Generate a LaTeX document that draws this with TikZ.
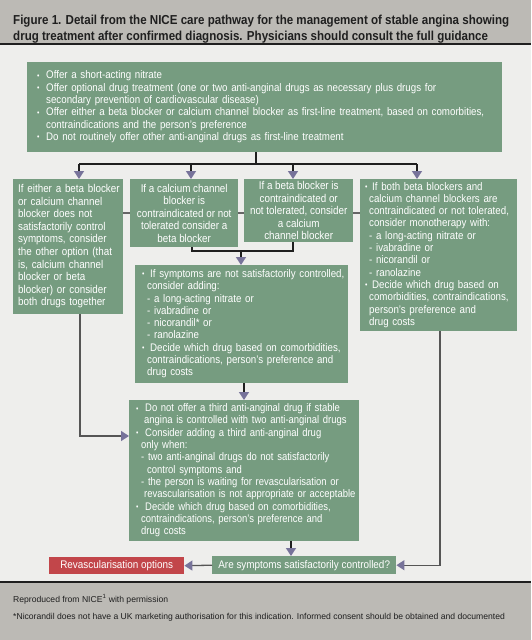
\documentclass[tikz,border=0pt]{standalone}
\usepackage{fontspec}
\usepackage{graphicx}
\setmainfont{Liberation Sans}[FakeStretch=0.885]
\newfontfamily\widefont{Liberation Sans}[FakeStretch=0.87]
\newfontfamily\gfont{Liberation Sans}[FakeStretch=0.9]
\newfontfamily\narrowfont{Liberation Sans}[FakeStretch=0.86]
\newfontfamily\titlefont{Liberation Sans}[FakeStretch=0.89]
\newfontfamily\plainfont{Liberation Sans}
\usetikzlibrary{arrows.meta}
\definecolor{bg}{HTML}{EEEEEC}
\definecolor{band}{HTML}{BCBAB5}
\definecolor{grn}{HTML}{769C80}
\definecolor{rd}{HTML}{C2464A}
\definecolor{tipc}{HTML}{77739A}
\definecolor{dk}{HTML}{1F1F1F}
\definecolor{gl}{HTML}{555555}
\newcommand\boxfont{\fontsize{11}{12.3}\selectfont}
\newcommand\bigboxfont{\widefont\fontsize{11.3}{12.6}\selectfont}
\newcommand\bl[1][9pt]{\makebox[#1][l]{\raisebox{0.6pt}{\scalebox{0.7}{•}}}}
\newcommand\boxlines[1]{\begin{tabular}{@{}l@{}}#1\end{tabular}}
\begin{document}
\begin{tikzpicture}[x=1pt,y=-1pt,
  box/.style={fill=grn, text=white, anchor=north west, inner ysep=0pt, inner xsep=5pt, font=\boxfont},
  ln/.style={draw=dk, line width=1.3pt},
  arr/.style={draw=dk, line width=1.3pt, -{Triangle[width=10pt,length=8pt,fill=tipc,color=tipc]}},
  garr/.style={draw=gl, line width=1.3pt, -{Triangle[width=10pt,length=8pt,fill=tipc,color=tipc]}},
  sl/.style={draw=gl!90, line width=1.3pt}]
\useasboundingbox (0,0) rectangle (531,640);
\fill[bg] (0,0) rectangle (531,640);
\fill[band] (0,0) rectangle (531,44);
\fill[band] (0,582) rectangle (531,640);
\draw[dk, line width=1.8pt] (0,44) -- (531,44);
\draw[dk, line width=1.8pt] (0,582) -- (531,582);

\node[anchor=north west, inner sep=0pt, align=left, text=dk, font=\titlefont\fontsize{13}{16}\selectfont\bfseries] (title) at (13,14.5)
 {Figure 1. Detail from the NICE care pathway for the management of stable angina showing\\drug treatment after confirmed diagnosis. Physicians should consult the full guidance};

% top box
\node[box, inner xsep=10pt, minimum width=475pt, minimum height=90pt, text width=455pt, align=left] (T) at (27,62)
 {\boxlines{\bl Offer a short-acting nitrate\\
 \bl Offer optional drug treatment (one or two anti-anginal drugs as necessary plus drugs for\\
 \hspace*{9pt}secondary prevention of cardiovascular disease)\\
 \bl Offer either a beta blocker or calcium channel blocker as first-line treatment, based on comorbities,\\
 \hspace*{9pt}contraindications and the person’s preference\\
 \bl Do not routinely offer other anti-anginal drugs as first-line treatment}};

% four boxes
\node[box, font=\bigboxfont, minimum width=110pt, minimum height=135pt, text width=100pt, align=left] (A) at (13,179)
 {\boxlines{If either a beta blocker\\or calcium channel\\blocker does not\\satisfactorily control\\symptoms, consider\\the other option (that\\is, calcium channel\\blocker or beta\\blocker) or consider\\both drugs together}};
\node[box, font=\bigboxfont, minimum width=108pt, minimum height=68pt, align=center] (B) at (130,179)
 {If a calcium channel\\blocker is\\contraindicated or not\\tolerated consider a\\beta blocker};
\node[box, font=\bigboxfont, minimum width=109pt, minimum height=63pt, align=center] (C) at (244,179)
 {If a beta blocker is\\contraindicated or\\not tolerated, consider\\a calcium\\channel blocker};
\node[box, minimum width=157pt, minimum height=152pt, text width=147pt, align=left] (D) at (360,179)
 {\boxlines{\bl[7pt]If both beta blockers and\\
 \hspace*{4pt}calcium channel blockers are\\
 \hspace*{4pt}contraindicated or not tolerated,\\
 \hspace*{4pt}consider monotherapy with:\\
 \hspace*{4pt}- a long-acting nitrate or\\
 \hspace*{4pt}- ivabradine or\\
 \hspace*{4pt}- nicorandil or\\
 \hspace*{4pt}- ranolazine\\
 \bl[7pt]Decide which drug based on\\
 \hspace*{4pt}comorbidities, contraindications,\\
 \hspace*{4pt}person’s preference and\\
 \hspace*{4pt}drug costs}};

% middle box
\node[box, inner xsep=7pt, minimum width=213pt, minimum height=118pt, text width=199pt, align=left] (E) at (135,265)
 {\boxlines{\bl[8pt]If symptoms are not satisfactorily controlled,\\
 \hspace*{5pt}consider adding:\\
 \hspace*{5pt}- a long-acting nitrate or\\
 \hspace*{5pt}- ivabradine or\\
 \hspace*{5pt}- nicorandil* or\\
 \hspace*{5pt}- ranolazine\\
 \bl[8pt]Decide which drug based on comorbidities,\\
 \hspace*{5pt}contraindications, person’s preference and\\
 \hspace*{5pt}drug costs}};

% lower box
\node[box, font=\narrowfont\fontsize{11}{12.3}\selectfont, inner xsep=7pt, minimum width=230pt, minimum height=141pt, text width=216pt, align=left] (F) at (129,400)
 {\boxlines{\bl Do not offer a third anti-anginal drug if stable\\
 \hspace*{8pt}angina is controlled with two anti-anginal drugs\\
 \bl Consider adding a third anti-anginal drug\\
 \hspace*{5pt}only when:\\
 \hspace*{5pt}- two anti-anginal drugs do not satisfactorily\\
 \hspace*{11pt}control symptoms and\\
 \hspace*{5pt}- the person is waiting for revascularisation or\\
 \hspace*{8pt}revascularisation is not appropriate or acceptable\\
 \bl Decide which drug based on comorbidities,\\
 \hspace*{5pt}contraindications, person’s preference and\\
 \hspace*{5pt}drug costs}};

\node[box, font=\gfont\fontsize{11}{12}\selectfont, minimum width=184pt, minimum height=18pt, align=center] (G) at (212,556) {Are symptoms satisfactorily controlled?};
\node[box, font=\gfont\fontsize{11}{12}\selectfont, fill=rd, minimum width=135pt, minimum height=17pt, align=center] (H) at (49,557) {Revascularisation options};

% footer
\node[anchor=west, inner sep=0pt, text=dk, font=\plainfont\fontsize{8.6}{10}\selectfont] (f1) at (13,599) {Reproduced from NICE\textsuperscript{1} with permission};
\node[anchor=west, inner sep=0pt, text=dk, font=\plainfont\fontsize{8.6}{10}\selectfont] (f2) at (13,617) {*Nicorandil does not have a UK marketing authorisation for this indication. Informed consent should be obtained and documented};

% connectors
\coordinate (j0) at (256,164);
\coordinate (ja) at (79,164);
\coordinate (jb) at (191,164);
\coordinate (jc) at (293,164);
\coordinate (jd) at (417,164);
\draw[ln] (T.south -| j0) -- (j0);
\draw[ln] (ja) -- (jd);
\draw[arr] (ja) -- (ja |- A.north);
\draw[arr] (jb) -- (jb |- B.north);
\draw[arr] (jc) -- (jc |- C.north);
\draw[arr] (jd) -- (jd |- D.north);

\coordinate (s) at (0,213);
\draw[sl] (A.east |- s) -- (B.west |- s);
\draw[sl] (B.east |- s) -- (C.west |- s);
\draw[sl] (C.east |- s) -- (D.west |- s);

\coordinate (b1) at (192,251);
\coordinate (c1) at (293,251);
\coordinate (e1) at (241,251);
\draw[ln] (B.south -| b1) -- (b1) -- (c1) -- (C.south -| c1);
\draw[arr] (e1) -- (e1 |- E.north);

\coordinate (ef) at (244,390);
\draw[arr] (E.south -| ef) -- (ef |- F.north);

\coordinate (af) at (80,436);
\draw[garr] (A.south -| af) |- (F.west |- af);

\coordinate (fg) at (291,548);
\draw[arr] (F.south -| fg) -- (fg |- G.north);

\draw[garr] (G.west) -- (H.east);

\coordinate (dg) at (440,566);
\draw[garr] (D.south -| dg) |- (G.east);
\end{tikzpicture}
\end{document}
